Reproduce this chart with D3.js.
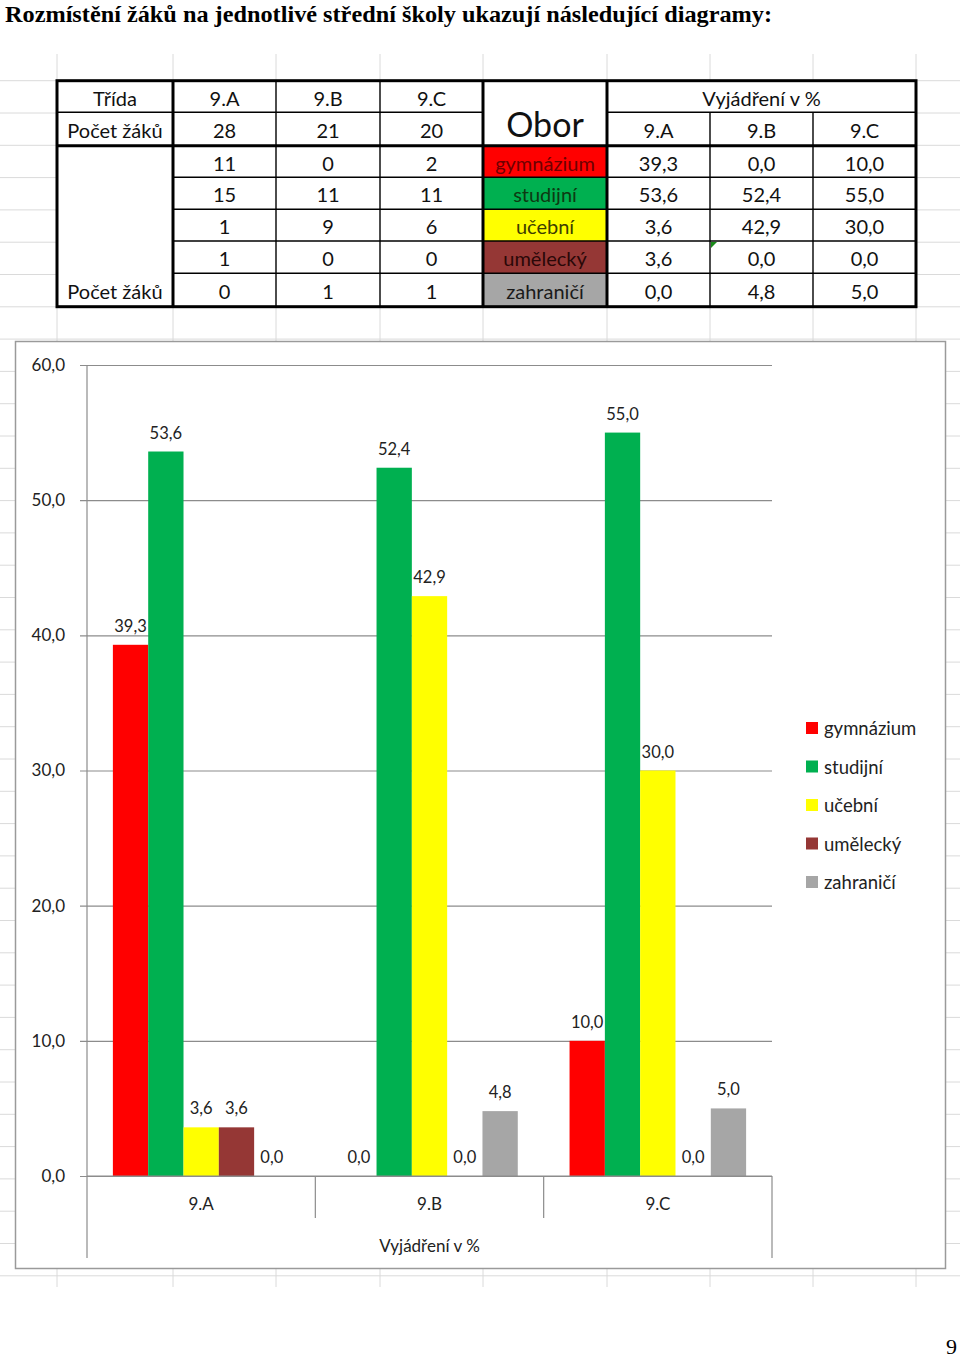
<!DOCTYPE html>
<html lang="cs">
<head>
<meta charset="UTF-8">
<title>Rozmístění žáků</title>
<script src="https://d3js.org/d3.v7.min.js"></script>
<style>
  body { margin: 0; background: #fff; }
  svg { display: block; }
  .cal { font-family: Lato, "Open Sans", sans-serif; }
</style>
</head>
<body>
<svg id="page" width="960" height="1358"></svg>
<script>
// data read from the sheet
const classes = ["9.A", "9.B", "9.C"];
const pupils = [28, 21, 20];
const fields = ["gymnázium", "studijní", "učební", "umělecký", "zahraničí"];
const counts9A = [11, 15, 1, 1, 0];
const counts9B = [0, 11, 9, 0, 1];
const counts9C = [2, 11, 6, 0, 1];
const pct9A = [39.3, 53.6, 3.6, 3.6, 0.0];
const pct9B = [0.0, 52.4, 42.9, 0.0, 4.8];
const pct9C = [10.0, 55.0, 30.0, 0.0, 5.0];
const yTicks = [0, 10, 20, 30, 40, 50, 60];

const counts = [counts9A, counts9B, counts9C];
const pcts = [pct9A, pct9B, pct9C];

const fieldFill = ["#FF0000", "#00B050", "#FFFF00", "#953735", "#A6A6A6"];
const fieldText = ["#6e0000", "#0d3a12", "#3d3d00", "#2a0808", "#1a1a1a"];

const cz = d3.formatLocale({decimal: ",", thousands: " ", grouping: [3], currency: ["", " Kč"]});
const f1 = cz.format(".1f");

const svg = d3.select("#page");

// title + page number
svg.append("text")
    .attr("x", 5).attr("y", 22)
    .attr("font-family", "Liberation Serif, serif")
    .attr("font-weight", "bold")
    .attr("font-size", 24)
    .attr("textLength", 767)
    .attr("lengthAdjust", "spacingAndGlyphs")
    .text("Rozmístění žáků na jednotlivé střední školy ukazují následující diagramy:");
svg.append("text")
    .attr("x", 957).attr("y", 1354)
    .attr("text-anchor", "end")
    .attr("font-family", "Liberation Serif, serif")
    .attr("font-size", 22)
    .text("9");

// spreadsheet grid in the background
const colEdges = [57, 173, 276, 380, 483, 607, 710, 813, 916];
const rowStep = 32.3;
const sheetTop = 80.7, sheetBottom = 1287;
const grid = svg.append("g").attr("stroke", "#dadada").attr("stroke-width", 1);
colEdges.forEach(x => {
    grid.append("line").attr("x1", x).attr("x2", x).attr("y1", 54).attr("y2", sheetBottom);
});
d3.range(sheetTop, 1280, rowStep).forEach(y => {
    grid.append("line").attr("x1", 0).attr("x2", 960).attr("y1", y).attr("y2", y);
});

// ---------- table ----------
const rowEdges = [80.7, 112.3, 145.7, 177.3, 209.3, 241, 273.3, 306.7];
const tbl = svg.append("g").attr("class", "cal");
const tFont = 20;

tbl.append("rect")
    .attr("x", colEdges[0]).attr("y", rowEdges[0])
    .attr("width", colEdges[8] - colEdges[0]).attr("height", rowEdges[7] - rowEdges[0])
    .attr("fill", "#fff");

// coloured Obor cells
fields.forEach((f, i) => {
    tbl.append("rect")
        .attr("x", colEdges[4]).attr("y", rowEdges[i + 2])
        .attr("width", colEdges[5] - colEdges[4]).attr("height", rowEdges[i + 3] - rowEdges[i + 2])
        .attr("fill", fieldFill[i]);
});

function cell(c0, c1, r, txt, color) {
    tbl.append("text")
        .attr("x", (colEdges[c0] + colEdges[c1]) / 2)
        .attr("y", (rowEdges[r] + rowEdges[r + 1]) / 2 + 1)
        .attr("text-anchor", "middle")
        .attr("dominant-baseline", "central")
        .attr("font-size", tFont)
        .attr("fill", color || "#111")
        .text(txt);
}

cell(0, 1, 0, "Třída");
cell(0, 1, 1, "Počet žáků");
classes.forEach((c, j) => {
    cell(j + 1, j + 2, 0, c);
    cell(j + 1, j + 2, 1, pupils[j]);
    cell(j + 5, j + 6, 1, c);
    counts[j].forEach((v, i) => cell(j + 1, j + 2, i + 2, v));
    pcts[j].forEach((v, i) => cell(j + 5, j + 6, i + 2, f1(v)));
});
fields.forEach((f, i) => cell(4, 5, i + 2, f, fieldText[i]));

tbl.append("text")
    .attr("x", (colEdges[5] + colEdges[8]) / 2).attr("y", (rowEdges[0] + rowEdges[1]) / 2 + 1)
    .attr("text-anchor", "middle").attr("dominant-baseline", "central")
    .attr("font-size", tFont).attr("fill", "#111")
    .text("Vyjádření v %");
tbl.append("text")
    .attr("x", (colEdges[4] + colEdges[5]) / 2).attr("y", rowEdges[2] - 9)
    .attr("text-anchor", "middle")
    .attr("font-size", 34).attr("fill", "#111")
    .text("Obor");
tbl.append("text")
    .attr("x", (colEdges[0] + colEdges[1]) / 2).attr("y", rowEdges[7] - 8)
    .attr("text-anchor", "middle")
    .attr("font-size", tFont).attr("fill", "#111")
    .text("Počet žáků");

// thin borders
const thin = tbl.append("g").attr("stroke", "#000").attr("stroke-width", 1.4);
[2, 3, 6, 7].forEach(c => {
    thin.append("line").attr("x1", colEdges[c]).attr("x2", colEdges[c])
        .attr("y1", c >= 6 ? rowEdges[1] : rowEdges[0]).attr("y2", rowEdges[7]);
});
thin.append("line").attr("x1", colEdges[0]).attr("x2", colEdges[4]).attr("y1", rowEdges[1]).attr("y2", rowEdges[1]);
thin.append("line").attr("x1", colEdges[5]).attr("x2", colEdges[8]).attr("y1", rowEdges[1]).attr("y2", rowEdges[1]);
[3, 4, 5, 6].forEach(r => {
    thin.append("line").attr("x1", colEdges[1]).attr("x2", colEdges[8]).attr("y1", rowEdges[r]).attr("y2", rowEdges[r]);
});

// thick borders
const thick = tbl.append("g").attr("stroke", "#000").attr("stroke-width", 3).attr("fill", "none");
thick.append("rect")
    .attr("x", colEdges[0]).attr("y", rowEdges[0])
    .attr("width", colEdges[8] - colEdges[0]).attr("height", rowEdges[7] - rowEdges[0]);
[1, 4, 5].forEach(c => {
    thick.append("line").attr("x1", colEdges[c]).attr("x2", colEdges[c]).attr("y1", rowEdges[0]).attr("y2", rowEdges[7]);
});
thick.append("line").attr("x1", colEdges[0]).attr("x2", colEdges[8]).attr("y1", rowEdges[2]).attr("y2", rowEdges[2]);

// Excel's little green error marker
tbl.append("path")
    .attr("d", `M${colEdges[6] + 1},${rowEdges[5] + 1}h6l-6,6z`)
    .attr("fill", "#1a8a1a");

// ---------- chart ----------
const chart = svg.append("g").attr("class", "cal");
chart.append("rect")
    .attr("x", 15.5).attr("y", 341.5).attr("width", 930).attr("height", 927)
    .attr("fill", "#fff").attr("stroke", "#9a9a9a").attr("stroke-width", 1.5);

const plot = {left: 87, right: 772, top: 365, bottom: 1176, axisEnd: 1258, sepEnd: 1218};

const y = d3.scaleLinear().domain([0, 60]).range([plot.bottom, plot.top]);
const x0 = d3.scaleBand().domain(classes).range([plot.left, plot.right]).padding(0);
const x1 = d3.scaleBand().domain(fields).range([0, x0.bandwidth()]).paddingInner(0).paddingOuter(0.733);
const color = d3.scaleOrdinal().domain(fields).range(fieldFill);

// gridlines and y labels
const yAxis = d3.axisLeft(y).tickValues(yTicks).tickSize(-(plot.right - plot.left + 7)).tickFormat(f1).tickPadding(15);
const yg = chart.append("g").attr("transform", `translate(${plot.left - 7},0)`).call(yAxis);
yg.select(".domain").remove();
yg.selectAll(".tick line").attr("stroke", "#8c8c8c").attr("stroke-width", 1.2);
yg.selectAll(".tick text")
    .attr("font-family", "Lato, 'Open Sans', sans-serif")
    .attr("font-size", 17).attr("fill", "#222");

// bars
const groups = chart.append("g").selectAll("g")
    .data(classes.map((c, j) => ({c, vals: pcts[j]})))
    .join("g")
    .attr("transform", d => `translate(${x0(d.c)},0)`);

groups.selectAll("rect")
    .data(d => d.vals.map((v, i) => ({f: fields[i], v})))
    .join("rect")
    .attr("x", d => x1(d.f))
    .attr("y", d => y(d.v))
    .attr("width", x1.bandwidth())
    .attr("height", d => y(0) - y(d.v))
    .attr("fill", d => color(d.f));

groups.selectAll("text")
    .data(d => d.vals.map((v, i) => ({f: fields[i], v})))
    .join("text")
    .attr("x", d => x1(d.f) + x1.bandwidth() / 2)
    .attr("y", d => y(d.v) - 13)
    .attr("text-anchor", "middle")
    .attr("font-size", 16.5)
    .attr("fill", "#222")
    .text(d => f1(d.v));

// axes lines
const ax = chart.append("g").attr("stroke", "#8c8c8c").attr("stroke-width", 1.2);
ax.append("line").attr("x1", plot.left).attr("x2", plot.left).attr("y1", plot.top).attr("y2", plot.axisEnd);
ax.append("line").attr("x1", plot.left).attr("x2", plot.right).attr("y1", plot.bottom).attr("y2", plot.bottom);
ax.append("line").attr("x1", plot.right).attr("x2", plot.right).attr("y1", plot.bottom).attr("y2", plot.axisEnd);
classes.slice(1).forEach(c => {
    ax.append("line").attr("x1", x0(c)).attr("x2", x0(c)).attr("y1", plot.bottom).attr("y2", plot.sepEnd);
});

// category labels
chart.append("g").selectAll("text")
    .data(classes)
    .join("text")
    .attr("x", d => x0(d) + x0.bandwidth() / 2)
    .attr("y", 1203)
    .attr("text-anchor", "middle")
    .attr("dominant-baseline", "central")
    .attr("font-size", 17)
    .attr("fill", "#222")
    .text(d => d);

chart.append("text")
    .attr("x", (plot.left + plot.right) / 2)
    .attr("y", 1245)
    .attr("text-anchor", "middle")
    .attr("dominant-baseline", "central")
    .attr("font-size", 17)
    .attr("fill", "#222")
    .text("Vyjádření v %");

// legend
const legend = chart.append("g").attr("transform", "translate(806,728)");
const li = legend.selectAll("g").data(fields).join("g")
    .attr("transform", (d, i) => `translate(0,${i * 38.5})`);
li.append("rect").attr("x", 0).attr("y", -6).attr("width", 12).attr("height", 12)
    .attr("fill", d => color(d));
li.append("text").attr("x", 18).attr("y", 0)
    .attr("dominant-baseline", "central")
    .attr("font-size", 18.5).attr("fill", "#222")
    .text(d => d);
</script>
</body>
</html>
